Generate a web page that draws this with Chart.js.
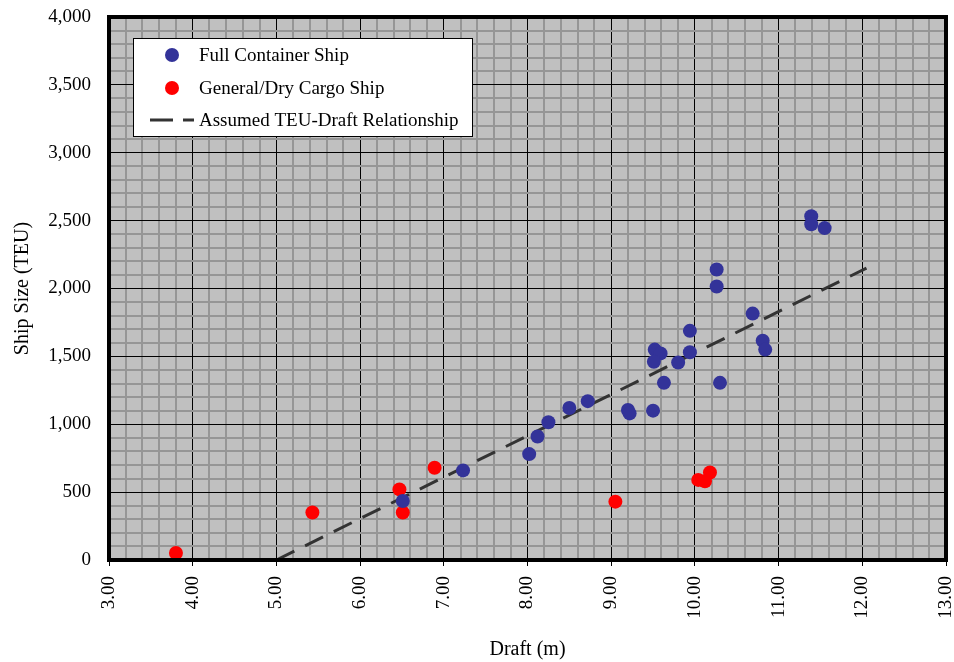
<!DOCTYPE html>
<html>
<head>
<meta charset="utf-8">
<title>Ship Size vs Draft</title>
<script src="https://cdn.jsdelivr.net/npm/chart.js@4.4.1/dist/chart.umd.min.js"></script>
<style>
  html, body { margin: 0; padding: 0; background: #fff; }
  #wrap { width: 954px; height: 662px; position: relative; }
</style>
</head>
<body>
<div id="wrap"><canvas id="chart"></canvas></div>
<script>

// Data

const fullDraft = [6.51, 7.23, 8.02, 8.12, 8.25, 8.50, 8.72, 9.20, 9.22, 9.50,
    9.63, 10.30, 9.52, 9.59, 9.51, 9.80, 9.94, 9.94, 10.69, 10.81,
    10.84, 10.26, 10.26, 11.39, 11.39, 11.55];
const fullTeu = [435, 660, 780, 910, 1015, 1120, 1170, 1105, 1080, 1100,
    1305, 1305, 1550, 1522, 1460, 1455, 1530, 1688, 1815, 1615,
    1550, 2140, 2015, 2532, 2473, 2445];

const cargoDraft = [3.80, 5.43, 6.47, 6.51, 6.89, 9.05, 10.04, 10.12, 10.18];
const cargoTeu = [52, 350, 520, 350, 680, 430, 590, 580, 645];

const lineDraft = [5.00, 12.05];
const lineTeu = [0, 2150];

const seriesLabels = ["Full Container Ship", "General/Dry Cargo Ship", "Assumed TEU-Draft Relationship"];

const xMin = 3, xMax = 13, xMinorStep = 0.2;
const yMin = 0, yMax = 4000, yMinorStep = 100, yMajorStep = 500;

const toPoints = (xs, ys) => xs.map((x, i) => ({ x: x, y: ys[i] }));

const FONT = "'Liberation Serif', 'Times New Roman', serif";

const isWhole = v => Math.abs(v - Math.round(v)) < 1e-6;
const isYMajor = v => Math.abs(v % yMajorStep) < 1e-6;


// Plot background, border and legend box

const plotFrame = {
    id: "plotFrame",
    beforeDraw(chart) {
        const { ctx, chartArea: a } = chart;
        ctx.save();
        ctx.fillStyle = "#c0c0c0";
        ctx.fillRect(a.left, a.top, a.right - a.left, a.bottom - a.top);
        ctx.restore();
    },
    afterDatasetsDraw(chart) {
        const { ctx, chartArea: a } = chart;
        ctx.save();
        ctx.strokeStyle = "#000";
        ctx.lineWidth = 4;
        ctx.strokeRect(a.left, a.top, a.right - a.left, a.bottom - a.top);
        ctx.restore();
    },
    afterDraw(chart) {
        const { ctx, chartArea: a } = chart;
        const ds = chart.data.datasets;
        const bx = a.left + 24, by = a.top + 21, bw = 339, bh = 98;
        ctx.save();
        ctx.fillStyle = "#fff";
        ctx.fillRect(bx, by, bw, bh);
        ctx.strokeStyle = "#000";
        ctx.lineWidth = 1;
        ctx.strokeRect(bx + 0.5, by + 0.5, bw, bh);

        const rows = [by + 17, by + 50, by + 82];
        ctx.font = "19px " + FONT;
        ctx.textBaseline = "middle";

        // point markers
        [0, 1].forEach(i => {
            ctx.beginPath();
            ctx.arc(bx + 39, rows[i], 7, 0, Math.PI * 2);
            ctx.fillStyle = ds[i].backgroundColor;
            ctx.fill();
        });

        // dashed line marker
        ctx.strokeStyle = ds[2].borderColor;
        ctx.lineWidth = 3;
        ctx.beginPath();
        ctx.moveTo(bx + 17, rows[2]);
        ctx.lineTo(bx + 40, rows[2]);
        ctx.moveTo(bx + 50, rows[2]);
        ctx.lineTo(bx + 61, rows[2]);
        ctx.stroke();

        ctx.fillStyle = "#000";
        ds.forEach((d, i) => ctx.fillText(d.label, bx + 66, rows[i] + 1));
        ctx.restore();
    }
};


// Scatter Chart

const chart = document.querySelector("#chart").getContext("2d");

new Chart(chart, {
    type: "scatter",
    data: {
        datasets: [
            {
                label: seriesLabels[0],
                data: toPoints(fullDraft, fullTeu),
                backgroundColor: "#333399",
                borderColor: "#333399",
                pointRadius: 7,
                pointHoverRadius: 7,
                borderWidth: 0,
            },
            {
                label: seriesLabels[1],
                data: toPoints(cargoDraft, cargoTeu),
                backgroundColor: "#ff0000",
                borderColor: "#ff0000",
                pointRadius: 7,
                pointHoverRadius: 7,
                borderWidth: 0,
            },
            {
                label: seriesLabels[2],
                data: toPoints(lineDraft, lineTeu),
                showLine: true,
                borderColor: "#333333",
                backgroundColor: "#333333",
                borderWidth: 3,
                borderDash: [20, 12],
                pointRadius: 0,
                fill: false,
            }
        ]
    },
    options: {
        responsive: true,
        maintainAspectRatio: false,
        animation: false,
        layout: { padding: { top: 17, right: 8, left: 0, bottom: 0 } },
        plugins: {
            legend: { display: false },
            tooltip: { enabled: false },
        },
        scales: {
            x: {
                type: "linear",
                min: xMin,
                max: xMax,
                afterFit: s => {
                    s.height = 102;
                    s.paddingLeft = 0;
                    s.paddingRight = 0;
                },
                ticks: {
                    stepSize: xMinorStep,
                    autoSkip: false,
                    minRotation: 90,
                    maxRotation: 90,
                    padding: 10,
                    color: "#000",
                    font: { family: FONT, size: 19 },
                    callback: v => isWhole(v) ? Math.round(v).toFixed(2) : "",
                },
                grid: {
                    color: c => isWhole(c.tick.value) ? "#000" : "#969696",
                    lineWidth: c => isWhole(c.tick.value) ? 1 : 2,
                    tickColor: c => isWhole(c.tick.value) ? "#000" : "rgba(0,0,0,0)",
                    tickLength: 6,
                    tickWidth: 1,
                },
                border: { display: false },
                title: {
                    display: true,
                    text: "Draft (m)",
                    color: "#000",
                    font: { family: FONT, size: 20 },
                    padding: { top: 0, bottom: 0 },
                },
            },
            y: {
                type: "linear",
                min: yMin,
                max: yMax,
                afterFit: s => {
                    s.width = 109;
                    s.paddingTop = 0;
                    s.paddingBottom = 0;
                },
                ticks: {
                    stepSize: yMinorStep,
                    autoSkip: false,
                    padding: 12,
                    color: "#000",
                    font: { family: FONT, size: 19 },
                    callback: v => isYMajor(v) ? v.toLocaleString("en-US") : "",
                },
                grid: {
                    color: c => isYMajor(c.tick.value) ? "#000" : "#969696",
                    lineWidth: c => isYMajor(c.tick.value) ? 1 : 2,
                    tickColor: "rgba(0,0,0,0)",
                    tickLength: 6,
                },
                border: { display: false },
                title: {
                    display: true,
                    text: "Ship Size (TEU)",
                    color: "#000",
                    font: { family: FONT, size: 20 },
                    padding: { top: 11, bottom: 11 },
                },
            }
        }
    },
    plugins: [plotFrame]
});

</script>
</body>
</html>
